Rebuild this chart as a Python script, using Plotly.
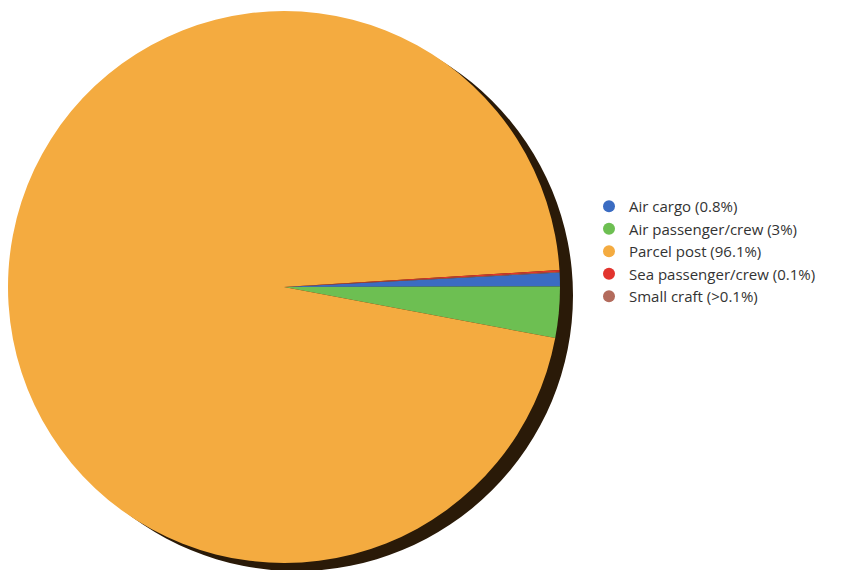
import plotly.graph_objects as go

labels = ["Air cargo", "Air passenger/crew", "Parcel post", "Sea passenger/crew", "Small craft"]
values = [0.8, 3.0, 96.1, 0.1, 0.05]
legend_text = ["Air cargo (0.8%)", "Air passenger/crew (3%)", "Parcel post (96.1%)",
               "Sea passenger/crew (0.1%)", "Small craft (>0.1%)"]
colors = ["#3B6CC2", "#6DBF52", "#F4AB40", "#E2342E", "#B36B5C"]

W, H = 857, 570

fig = go.Figure()
fig.add_trace(go.Pie(
    labels=labels, values=values, sort=False, direction="clockwise",
    rotation=87, marker=dict(colors=colors, line=dict(width=0)),
    textinfo="none", hoverinfo="label+percent", showlegend=False,
    domain=dict(x=[8 / W, 560 / W], y=[1 - 564 / H, 1 - 10 / H]),
))
for lab, txt, col in zip(labels, legend_text, colors):
    fig.add_trace(go.Scatter(
        x=[None], y=[None], mode="markers", name=txt,
        marker=dict(symbol="circle", size=14, color=col),
        showlegend=True,
    ))

# dark rim to suggest the 3D edge of the pie
fig.add_shape(type="circle", xref="paper", yref="paper",
              x0=20 / W, x1=573 / W, y0=1 - 571 / H, y1=1 - 20 / H,
              fillcolor="#2a1a08", line=dict(width=0), layer="below")

fig.update_layout(
    width=W, height=H,
    margin=dict(l=0, r=0, t=0, b=0),
    paper_bgcolor="white", plot_bgcolor="white",
    xaxis=dict(visible=False, domain=[0.7, 0.71]),
    yaxis=dict(visible=False, domain=[0.0, 0.01]),
    legend=dict(x=589 / W, y=1 - 190 / H, xanchor="left", yanchor="top",
                font=dict(family="Open Sans", size=15, color="#333333"),
                itemsizing="constant", tracegroupgap=0, bgcolor="rgba(0,0,0,0)"),
    showlegend=True,
)

fig.write_html("out.html")
